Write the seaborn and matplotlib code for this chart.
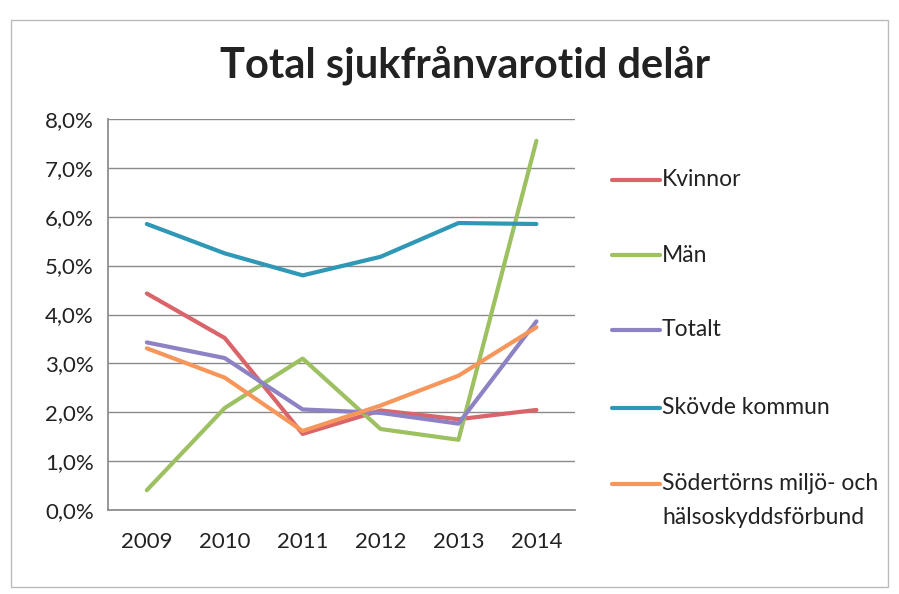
import matplotlib
matplotlib.use("Agg")
import matplotlib.pyplot as plt
import seaborn as sns
import pandas as pd
from matplotlib.patches import Rectangle
from matplotlib.lines import Line2D
from matplotlib.ticker import FuncFormatter

years = ["2009", "2010", "2011", "2012", "2013", "2014"]
kvinnor = [4.43, 3.52, 1.56, 2.04, 1.86, 2.05]
man = [0.41, 2.09, 3.10, 1.66, 1.44, 7.55]
totalt = [3.43, 3.11, 2.06, 1.99, 1.77, 3.86]
skovde = [5.85, 5.25, 4.80, 5.18, 5.87, 5.85]
sodertorn = [3.31, 2.71, 1.62, 2.14, 2.75, 3.74]

series_names = ["Kvinnor", "Män", "Totalt", "Skövde kommun",
                "Södertörns miljö- och\nhälsoskyddsförbund"]
series_values = [kvinnor, man, totalt, skovde, sodertorn]
colors = ["#D9646A", "#9DC060", "#8C82C4", "#2F98B6", "#F7965A"]

rows = []
for name, vals in zip(series_names, series_values):
    for i, (y, v) in enumerate(zip(years, vals)):
        rows.append({"idx": i, "year": y, "value": v, "serie": name})
df = pd.DataFrame(rows)

sns.set_theme(style="white")
plt.rcParams["font.family"] = ["Lato", "DejaVu Sans"]

W, H = 899, 594
fig = plt.figure(figsize=(W / 100, H / 100), dpi=100)
ax = fig.add_axes([0.12, 0.141, 0.52, 0.659])

sns.lineplot(data=df, x="idx", y="value", hue="serie", palette=colors,
             hue_order=series_names, linewidth=3.0, ax=ax, legend=False,
             sort=False)

ax.set_xlim(-0.5, 5.5)
ax.set_ylim(0, 8)
ax.set_yticks(range(0, 9))
ax.yaxis.set_major_formatter(FuncFormatter(lambda v, p: f"{v:.1f}%".replace(".", ",")))
ax.set_xticks(range(len(years)))
ax.set_xticklabels(years)
ax.tick_params(axis="both", labelsize=16, colors="#222222", length=0)
ax.tick_params(axis="x", pad=16)
ax.tick_params(axis="y", pad=10)
ax.grid(axis="y", color="#8a8a8a", linewidth=1.0)
ax.set_axisbelow(True)
for s in ["top", "right"]:
    ax.spines[s].set_visible(False)
ax.spines["left"].set_color("#8a8a8a")
ax.spines["bottom"].set_color("#8a8a8a")
ax.set_xlabel("")
ax.set_ylabel("")

fig.text(465 / W, 1 - 65 / H, "Total sjukfrånvarotid delår", ha="center", va="center",
         fontsize=30, fontweight="bold", color="#222222")

# legend (drawn by hand to mimic the Excel layout)
legend_y = [180, 255, 330, 408, 484]
for name, c, yp in zip(series_names, colors, legend_y):
    yf = 1 - yp / H
    fig.add_artist(Line2D([612 / W, 660 / W], [yf, yf], color=c, linewidth=3.0,
                          transform=fig.transFigure))
    fig.text(662 / W, yf, name, ha="left", va="top" if "\n" in name else "center",
             fontsize=16.5, color="#222222", linespacing=1.45,
             transform=fig.transFigure) if "\n" not in name else None
    if "\n" in name:
        first, second = name.split("\n")
        fig.text(662 / W, yf, first, ha="left", va="center", fontsize=16.5, color="#222222")
        fig.text(662 / W, 1 - (yp + 33) / H, second, ha="left", va="center",
                 fontsize=16.5, color="#222222")

fig.patches.append(Rectangle((0.012, 0.012), 0.976, 0.955, transform=fig.transFigure,
                             fill=False, edgecolor="#bbbbbb", linewidth=1.0))

fig.savefig("out.png", dpi=100)
